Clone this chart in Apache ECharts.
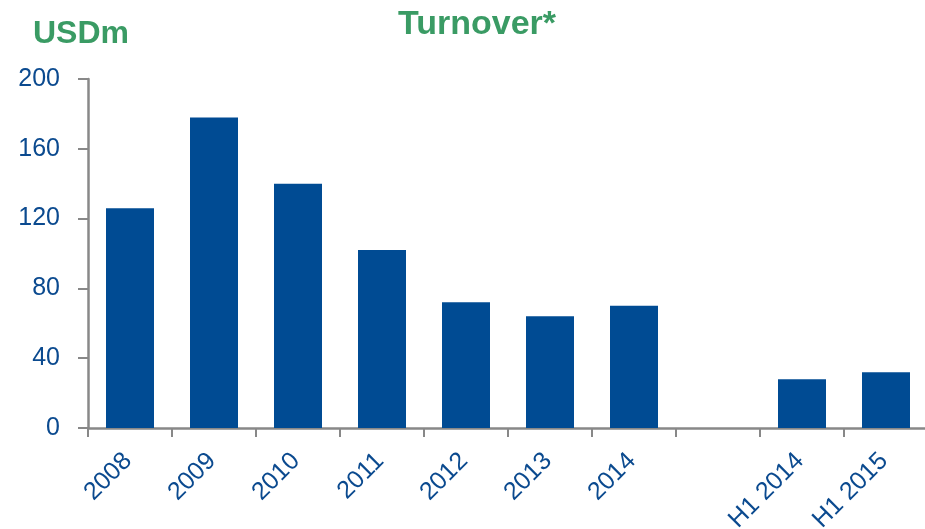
<!DOCTYPE html>
<html>
<head>
<meta charset="utf-8">
<script src="https://cdn.jsdelivr.net/npm/echarts@6/dist/echarts.min.js"></script>
<style>
  html, body { margin: 0; padding: 0; background: #ffffff; }
  #chart { width: 925px; height: 529px; }
</style>
</head>
<body>
<div id="chart"></div>
<script>
// Turnover by year and half-year, USD millions
const categories = ['2008', '2009', '2010', '2011', '2012', '2013', '2014', '', 'H1 2014', 'H1 2015'];
const turnover = [126, 178, 140, 102, 72, 64, 70, null, 28, 32];
const yTicks = { min: 0, max: 200, interval: 40 };

const blue = '#004b93';
const labelBlue = '#0b4a8f';
const green = '#3a9b64';
const axisGrey = '#888888';
const font = '"Liberation Sans", Arial, sans-serif';

const chart = echarts.init(document.getElementById('chart'), null, { renderer: 'canvas' });

chart.setOption({
  backgroundColor: '#ffffff',
  animation: false,
  title: [
    {
      text: 'USDm',
      left: 28, top: 13,
      textStyle: { color: green, fontSize: 32, fontWeight: 'bold', fontFamily: font }
    },
    {
      text: 'Turnover*',
      left: 393, top: 3,
      textStyle: { color: green, fontSize: 34, fontWeight: 'bold', fontFamily: font }
    }
  ],
  grid: {
    left: 88, top: 79, width: 840, height: 349,
    containLabel: false,
    outerBoundsMode: 'none'
  },
  xAxis: {
    type: 'category',
    data: categories,
    boundaryGap: true,
    axisLine: { lineStyle: { color: axisGrey, width: 2.5 } },
    axisTick: { show: true, length: 9, lineStyle: { color: axisGrey, width: 2 } },
    axisLabel: {
      rotate: 45,
      interval: 0,
      margin: 27,
      padding: [0, 3, 0, 0],
      color: labelBlue,
      fontSize: 25,
      fontFamily: font
    }
  },
  yAxis: {
    type: 'value',
    min: yTicks.min, max: yTicks.max, interval: yTicks.interval,
    splitLine: { show: false },
    axisLine: { show: true, lineStyle: { color: axisGrey, width: 2.5 } },
    axisTick: { show: true, length: 10, lineStyle: { color: axisGrey, width: 2 } },
    axisLabel: {
      margin: 28,
      color: labelBlue,
      fontSize: 25,
      fontFamily: font
    }
  },
  series: [
    {
      type: 'bar',
      data: turnover,
      barWidth: 48,
      itemStyle: { color: blue },
      silent: true
    }
  ]
});
</script>
</body>
</html>
